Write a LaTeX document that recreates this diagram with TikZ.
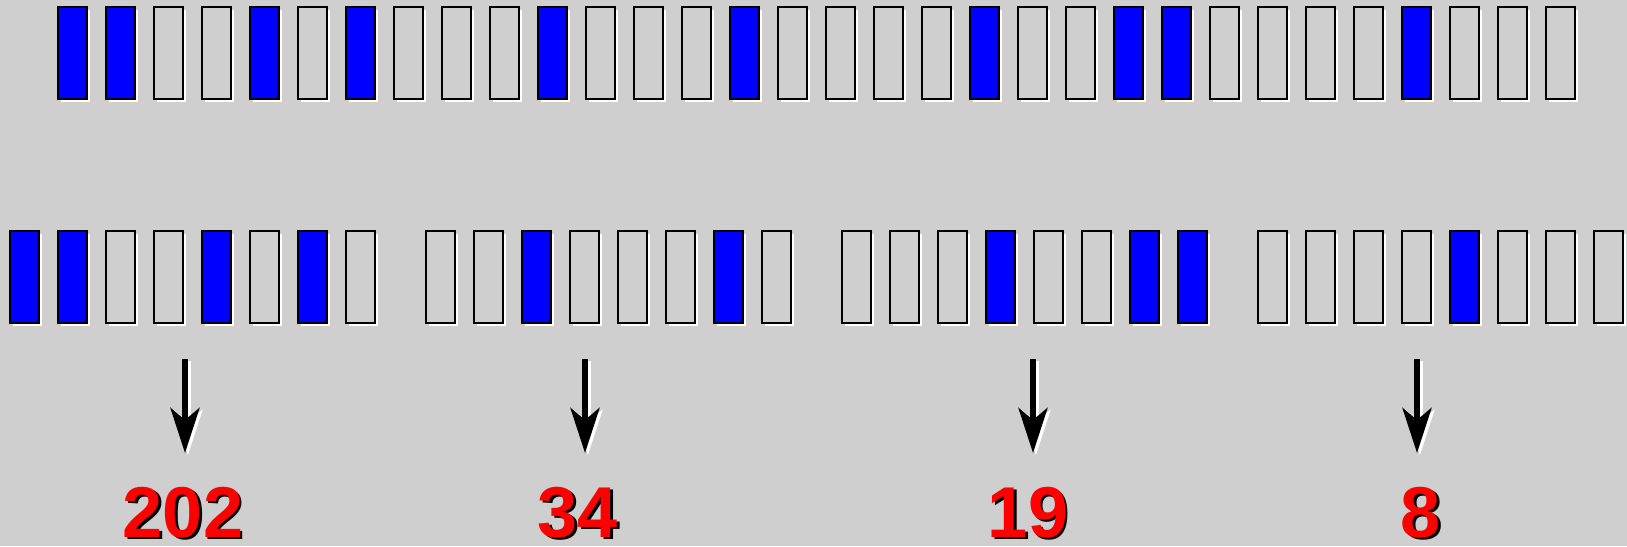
\documentclass[tikz,border=0pt]{standalone}
\usepackage{fontspec}
\newfontfamily\numfont{Liberation Sans}
\usetikzlibrary{arrows.meta,shadows}
\definecolor{bg}{RGB}{207,207,207}
\colorlet{c0}{bg}
\colorlet{c1}{blue}
\tikzset{
  cell/.style={draw=black, line width=2pt, minimum width=29pt, minimum height=92pt,
    inner sep=0pt, outer sep=0pt,
    drop shadow={shadow xshift=3pt, shadow yshift=-3pt, fill=white, opacity=1}},
  arr/.style={line width=6pt, -{Stealth[length=45pt, width=29pt, inset=12pt]}},
  num/.style={font=\numfont\bfseries\fontsize{72}{72}\selectfont, inner sep=0pt, anchor=base},
}
\begin{document}
\begin{tikzpicture}[x=1pt,y=-1pt]
\fill[bg] (0,0) rectangle (1627,546);
\useasboundingbox (0,0) rectangle (1627,546);
% top row
\foreach \b [count=\i from 0] in {1,1,0,0,1,0,1,0, 0,0,1,0,0,0,1,0, 0,0,0,1,0,0,1,1, 0,0,0,0,1,0,0,0}{
  \pgfmathsetmacro\xx{72.5+48*\i}
  \node[cell, fill=c\b] (t\i) at (\xx,53) {};
  \pgfmathtruncatemacro\g{floor(\i/8)}
  \pgfmathtruncatemacro\k{mod(\i,8)}
  \pgfmathsetmacro\xb{24.5+416*\g+48*\k}
  \node[cell, fill=c\b] (b\i) at (\xb,277) {};
}
% arrows
\foreach \x [count=\j] in {185,585,1033,1417}{
  \coordinate (a\j) at (\x,359);
  \coordinate (e\j) at (\x,453);
  \draw[arr, white, transform canvas={xshift=3pt,yshift=-2pt}] (a\j) -- (e\j);
  \draw[arr, black] (a\j) -- (e\j);
}
% numbers
\foreach \x/\t [count=\j] in {183/202,578/34,1028/19,1421/8}{
  \node[num, text=black] (n\j s) at (\x+2.5,539.5) {\t};
  \node[num, text=red] (n\j) at (\x,537) {\t};
}
\end{tikzpicture}
\end{document}
